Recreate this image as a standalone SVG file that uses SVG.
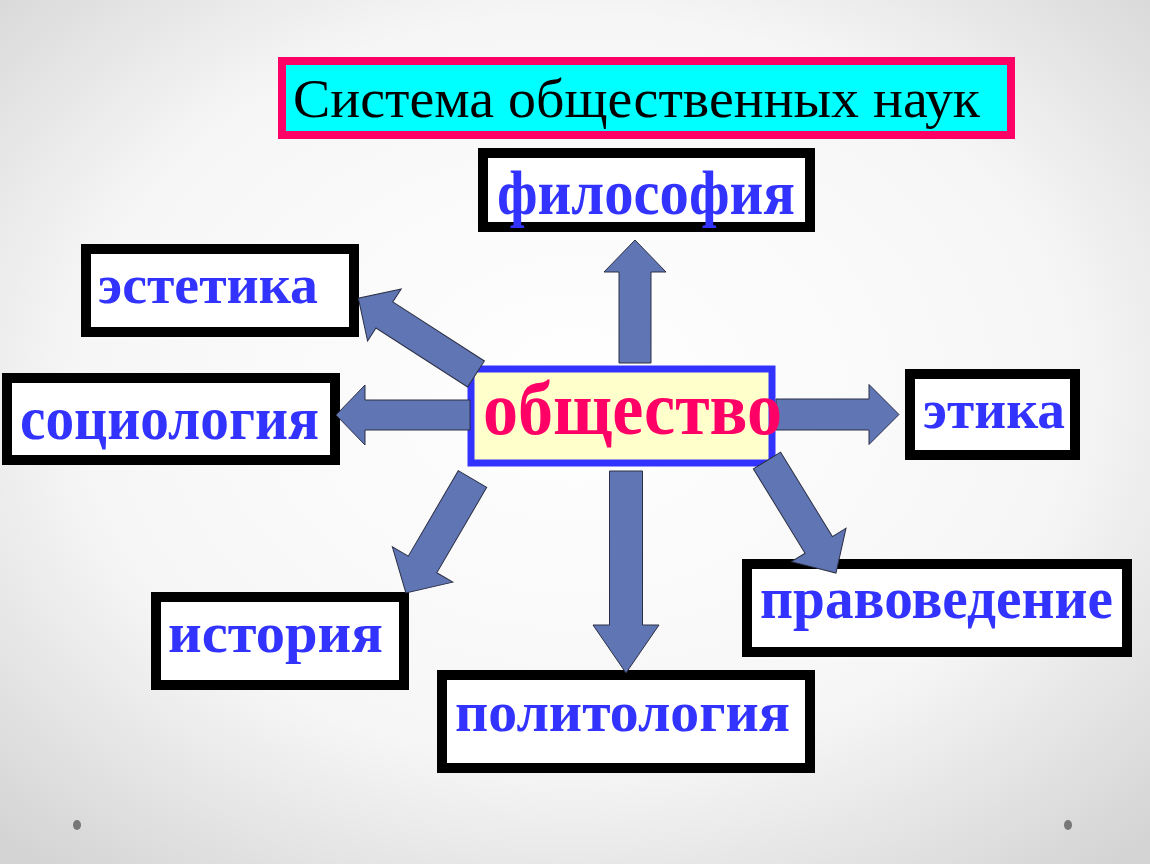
<svg xmlns="http://www.w3.org/2000/svg" width="1150" height="864" viewBox="0 0 1150 864">
<defs>
<radialGradient id="bg" cx="50%" cy="45%" r="72%">
<stop offset="0" stop-color="#ffffff"/>
<stop offset="0.6" stop-color="#f6f6f6"/>
<stop offset="1" stop-color="#d4d4d4"/>
</radialGradient>
<style>
.box{fill:#ffffff;stroke:#000000;stroke-width:10}
.lbl{font-family:"Liberation Serif","Times New Roman",serif;font-weight:bold;fill:#3333ff}
.arr{fill:#6076b4;stroke:#2b2f45;stroke-width:1}
</style>
</defs>
<rect x="0" y="0" width="1150" height="864" fill="url(#bg)"/>
<ellipse cx="77" cy="825" rx="4" ry="5" fill="#777"/>
<ellipse cx="1068" cy="825" rx="4" ry="5" fill="#777"/>

<g id="title">
<rect x="282" y="61" width="729" height="74" fill="#00ffff" stroke="#ff0066" stroke-width="8"/>
<text x="293" y="117" font-family="Liberation Serif,'Times New Roman',serif" font-size="55" fill="#000" textLength="687" lengthAdjust="spacingAndGlyphs">Система общественных наук</text>
</g>

<g id="philosophy">
<rect class="box" x="483" y="153" width="327" height="74"/>
<text class="lbl" x="497" y="214" font-size="64" textLength="298" lengthAdjust="spacingAndGlyphs">философия</text>
</g>
<g id="aesthetics">
<rect class="box" x="86" y="249" width="268" height="83"/>
<text class="lbl" x="98" y="303" font-size="55" textLength="220" lengthAdjust="spacingAndGlyphs">эстетика</text>
</g>
<g id="sociology">
<rect class="box" x="7" y="378" width="328" height="82"/>
<text class="lbl" x="20" y="439" font-size="62" textLength="299" lengthAdjust="spacingAndGlyphs">социология</text>
</g>
<g id="ethics">
<rect class="box" x="910" y="374" width="165" height="81"/>
<text class="lbl" x="923" y="428" font-size="55" textLength="142" lengthAdjust="spacingAndGlyphs">этика</text>
</g>
<g id="law">
<rect class="box" x="747" y="564" width="380" height="88"/>
<text class="lbl" x="760" y="618" font-size="60" textLength="353" lengthAdjust="spacingAndGlyphs">правоведение</text>
</g>
<g id="history">
<rect class="box" x="156" y="597" width="248" height="88"/>
<text class="lbl" x="168" y="652" font-size="58" textLength="215" lengthAdjust="spacingAndGlyphs">история</text>
</g>
<g id="politology">
<rect class="box" x="442" y="675" width="368" height="93"/>
<text class="lbl" x="455" y="731" font-size="58" textLength="335" lengthAdjust="spacingAndGlyphs">политология</text>
</g>

<g id="society-box">
<rect x="471" y="369" width="301" height="94" fill="#ffffcc" stroke="#3333ff" stroke-width="7"/>
</g>

<g id="connectors">
<polygon class="arr" transform="translate(635,363) rotate(-90)" points="0,-16 91,-16 91,-31 123,0 91,31 91,16 0,16"/>
<polygon class="arr" transform="translate(470,415) rotate(180)" points="0,-15 105,-15 105,-30 134,0 105,30 105,15 0,15"/>
<polygon class="arr" transform="translate(476,374) rotate(-147.2)" points="0,-15.5 109,-15.5 109,-31 140,0 109,31 109,15.5 0,15.5"/>
<polygon class="arr" transform="translate(776,414.5)" points="0,-15.5 93,-15.5 93,-30 123,0 93,30 93,15.5 0,15.5"/>
<polygon class="arr" transform="translate(767,460.5) rotate(58.5)" points="0,-16 99,-16 99,-32 132,0 99,32 99,16 0,16"/>
<polygon class="arr" transform="translate(626,471) rotate(90)" points="0,-16.5 154,-16.5 154,-33 202,0 154,33 154,16.5 0,16.5"/>
<polygon class="arr" transform="translate(472.5,479) rotate(120.3)" points="0,-16.5 99,-16.5 99,-35 132,0 99,35 99,16.5 0,16.5"/>
</g>

<g id="society">
<text x="483" y="434" font-family="Liberation Serif,'Times New Roman',serif" font-weight="bold" font-size="76" fill="#ff0066" textLength="299" lengthAdjust="spacingAndGlyphs">общество</text>
</g>
</svg>
